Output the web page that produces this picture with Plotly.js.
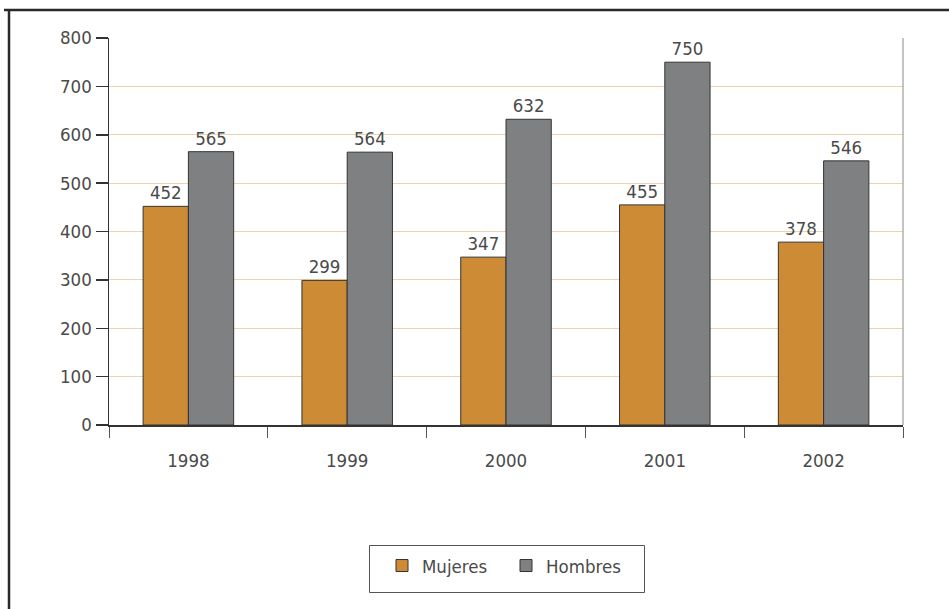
<!DOCTYPE html>
<html>
<head>
<meta charset="utf-8">
<script src="https://cdn.plot.ly/plotly-3.0.1.min.js"></script>
<style>
  html, body { margin: 0; padding: 0; background: #ffffff; }
  #chart { width: 949px; height: 609px; }
</style>
</head>
<body>
<div id="chart"></div>
<script>
// Years on the category axis
var years = ['1998', '1999', '2000', '2001', '2002'];
// Values per year for each group
var mujeres = [452, 299, 347, 455, 378];
var hombres = [565, 564, 632, 750, 546];
// Y axis ticks
var yTicks = [0, 100, 200, 300, 400, 500, 600, 700, 800];

var FONT = '"Liberation Sans Narrow", "DejaVu Sans Condensed", "Arial Narrow", sans-serif';
var TEXT = '#4a4a4a';
var FS = 18.5;

// Plot area in pixels, used to place the frame and legend box
var L = 109, R = 46, T = 38, B = 184, W = 949, H = 609;
var pw = W - L - R, ph = H - T - B;
function px(x) { return (x - L) / pw; }
function py(y) { return (H - B - y) / ph; }

var barStyle = {
  type: 'bar',
  x: years,
  textposition: 'outside',
  texttemplate: '%{y}',
  cliponaxis: false,
  textfont: { family: FONT, size: FS, color: TEXT },
  hoverinfo: 'x+y+name'
};

var traces = [
  Object.assign({}, barStyle, {
    name: 'Mujeres',
    y: mujeres,
    marker: { color: '#CD8B35', line: { color: '#333333', width: 1 } }
  }),
  Object.assign({}, barStyle, {
    name: 'Hombres',
    y: hombres,
    marker: { color: '#7F8082', line: { color: '#333333', width: 1 } }
  })
];

var layout = {
  width: W,
  height: H,
  margin: { l: L, r: R, t: T, b: B },
  paper_bgcolor: '#ffffff',
  plot_bgcolor: '#ffffff',
  font: { family: FONT, size: FS, color: TEXT },
  barmode: 'group',
  bargap: 0.43,
  bargroupgap: 0,
  showlegend: true,
  legend: {
    orientation: 'h',
    x: px(382), xanchor: 'left',
    y: py(547), yanchor: 'top',
    borderwidth: 0,
    bgcolor: 'rgba(0,0,0,0)',
    font: { family: FONT, size: FS, color: TEXT },
    entrywidth: 79,
    traceorder: 'normal'
  },
  xaxis: {
    type: 'category',
    showline: true,
    linecolor: '#333333',
    linewidth: 1.5,
    ticks: 'outside',
    tickson: 'boundaries',
    ticklen: 11,
    tickcolor: '#555555',
    tickwidth: 1,
    ticklabelstandoff: 18,
    showgrid: false,
    zeroline: false,
    tickfont: { family: FONT, size: FS, color: TEXT }
  },
  yaxis: {
    range: [0, 800],
    tickvals: yTicks,
    ticktext: yTicks.map(String),
    showline: true,
    linecolor: '#333333',
    linewidth: 1.5,
    ticks: 'outside',
    ticklen: 12,
    tickcolor: '#333333',
    tickwidth: 1.5,
    ticklabelstandoff: 0,
    showgrid: true,
    gridcolor: '#EFD3AE',
    gridwidth: 1,
    zeroline: false,
    tickfont: { family: FONT, size: FS, color: TEXT }
  },
  shapes: [
    // right edge of the plot area
    { type: 'line', xref: 'paper', yref: 'y', x0: 1, x1: 1, y0: 0, y1: 800,
      line: { color: '#8a8a8a', width: 1 } },
    // outer frame: top and left edges
    { type: 'line', xref: 'paper', yref: 'paper', x0: px(4), x1: px(952), y0: py(10), y1: py(10),
      line: { color: '#2a2a2a', width: 2.5 } },
    { type: 'line', xref: 'paper', yref: 'paper', x0: px(9), x1: px(9), y0: py(9), y1: py(612),
      line: { color: '#2a2a2a', width: 2.5 } },
    // legend box
    { type: 'rect', xref: 'paper', yref: 'paper', x0: px(369.5), x1: px(644.5), y0: py(545.5), y1: py(592.5),
      line: { color: '#555555', width: 1 }, fillcolor: 'rgba(0,0,0,0)' }
  ]
};

Plotly.newPlot('chart', traces, layout, { displayModeBar: false, staticPlot: true });
</script>
</body>
</html>
